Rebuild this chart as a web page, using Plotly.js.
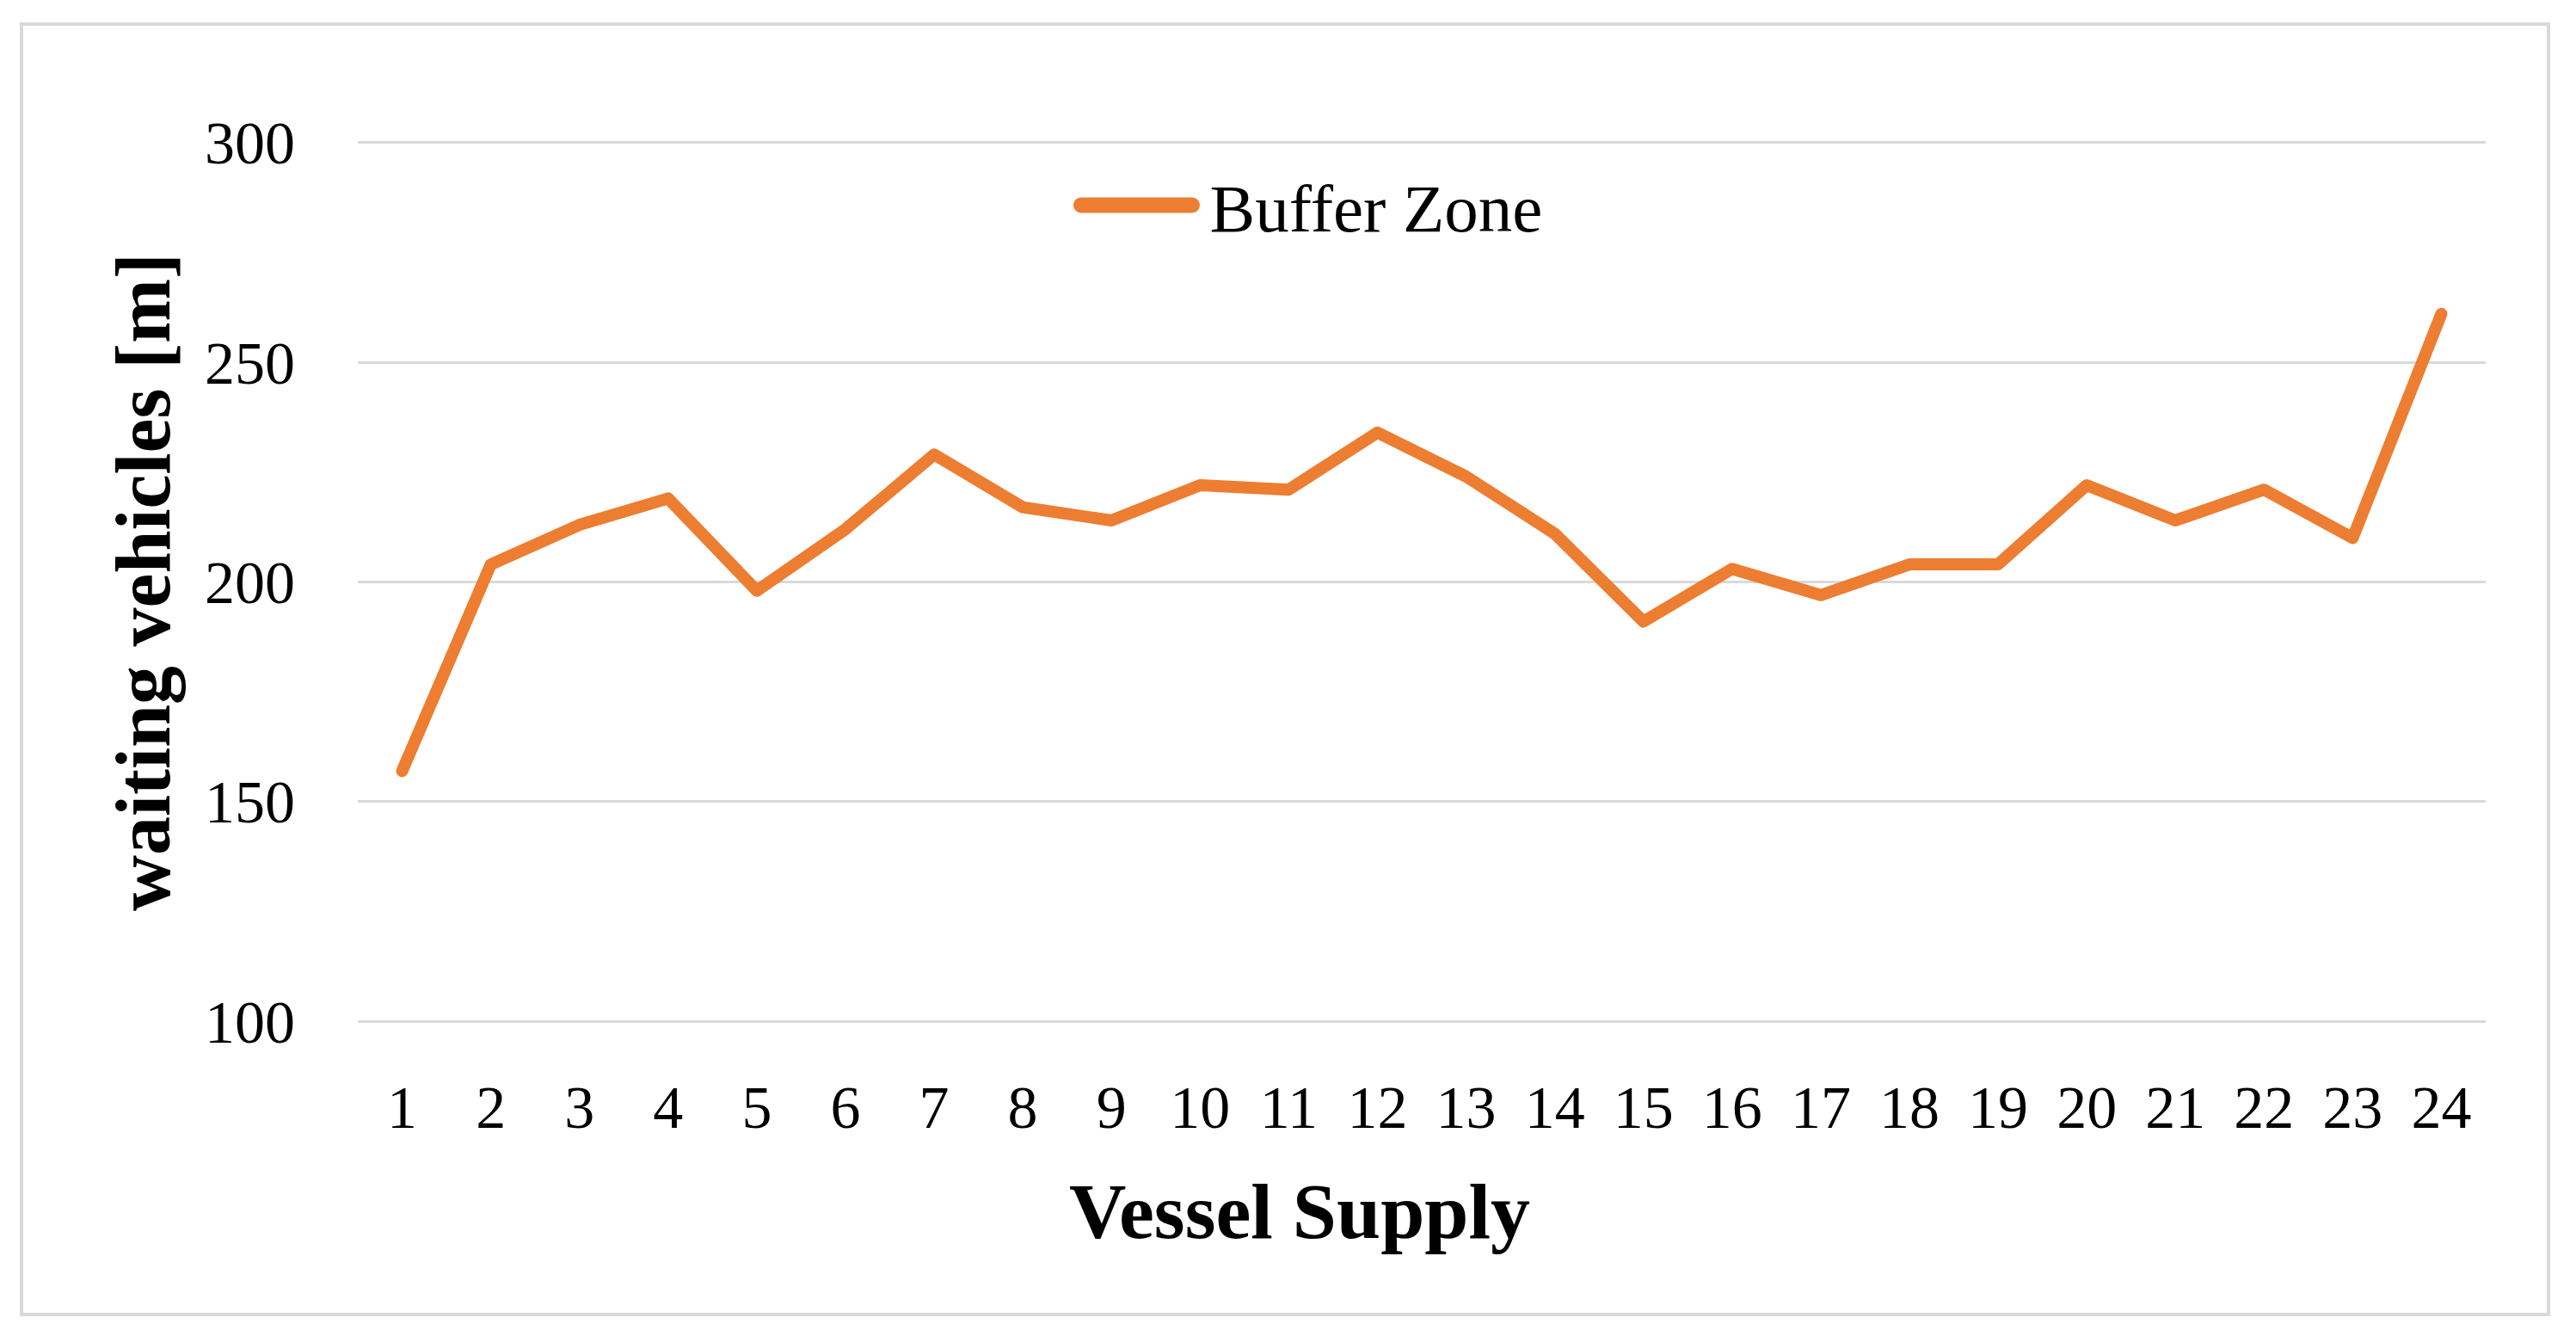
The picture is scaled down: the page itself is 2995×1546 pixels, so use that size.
<!DOCTYPE html>
<html>
<head>
<meta charset="utf-8">
<script src="https://cdn.plot.ly/plotly-3.0.1.min.js"></script>
<style>
  html, body { margin: 0; padding: 0; background: #fff; }
  #wrap { position: relative; width: 2995px; height: 1546px; }
  #chart { position: absolute; left: 0; top: 0; width: 2995px; height: 1546px; }
  #frame { position: absolute; left: 23px; top: 26px; width: 2934px; height: 1496px;
           border: 4px solid #d9d9d9; pointer-events: none; }
  #chart .legendlines path {
    stroke-width: 18px !important;
    stroke-linecap: round !important;
    stroke-dasharray: 129px 1000px !important;
    stroke-dashoffset: -8.4px !important;
  }
  #chart .scatterlayer .js-line { stroke-linecap: round !important; stroke-linejoin: round !important; }
</style>
</head>
<body>
<div id="wrap">
  <div id="chart"></div>
  <div id="frame"></div>
</div>
<script>
const vesselSupply = ["1","2","3","4","5","6","7","8","9","10","11","12","13","14","15","16","17","18","19","20","21","22","23","24"];
const bufferZone = [157,204,213,219,198,212,229,217,214,222,221,234,224,211,191,203,197,204,204,222,214,221,210,261];
const seriesName = "Buffer Zone";
const xTitle = "Vessel Supply";
const yTitle = "waiting vehicles [m]";
const yTicks = [100,150,200,250,300];

const FONT = "Liberation Serif, Times New Roman, serif";

const trace = {
  x: vesselSupply,
  y: bufferZone,
  type: "scatter",
  mode: "lines",
  name: seriesName,
  line: { color: "#ED7D31", width: 14 },
  showlegend: true
};

const layout = {
  width: 2995,
  height: 1546,
  paper_bgcolor: "rgba(0,0,0,0)",
  plot_bgcolor: "rgba(0,0,0,0)",
  margin: { l: 416, r: 105, t: 163, b: 356 },
  font: { family: FONT, color: "#000", size: 70 },
  showlegend: true,
  legend: {
    x: 0.3345, y: 0.9264, xanchor: "left", yanchor: "middle",
    orientation: "h",
    font: { family: FONT, size: 79, color: "#000" },
    bgcolor: "rgba(0,0,0,0)",
    itemwidth: 153
  },
  xaxis: {
    type: "category",
    range: [-0.5, 23.5],
    showgrid: false,
    zeroline: false,
    showline: false,
    ticks: "",
    tickfont: { family: FONT, size: 70, color: "#000" },
    ticklabelstandoff: 50,
    automargin: false
  },
  yaxis: {
    range: [99.5, 300.5],
    tickvals: yTicks,
    ticktext: yTicks.map(String),
    showgrid: true,
    gridcolor: "#d9d9d9",
    gridwidth: 3,
    zeroline: false,
    showline: false,
    ticks: "",
    tickfont: { family: FONT, size: 70, color: "#000" },
    ticklabelstandoff: 72,
    automargin: false,
    title: { text: "<b>" + yTitle + "</b>", font: { family: FONT, size: 90, color: "#000" }, standoff: 10 }
  },
  annotations: [{
    text: "<b>" + xTitle + "</b>",
    xref: "paper", yref: "paper",
    x: 0.4426, y: -0.2127,
    xanchor: "center", yanchor: "middle",
    showarrow: false,
    font: { family: FONT, size: 92, color: "#000" }
  }]
};

Plotly.newPlot("chart", [trace], layout, { staticPlot: true, displayModeBar: false });
</script>
</body>
</html>
